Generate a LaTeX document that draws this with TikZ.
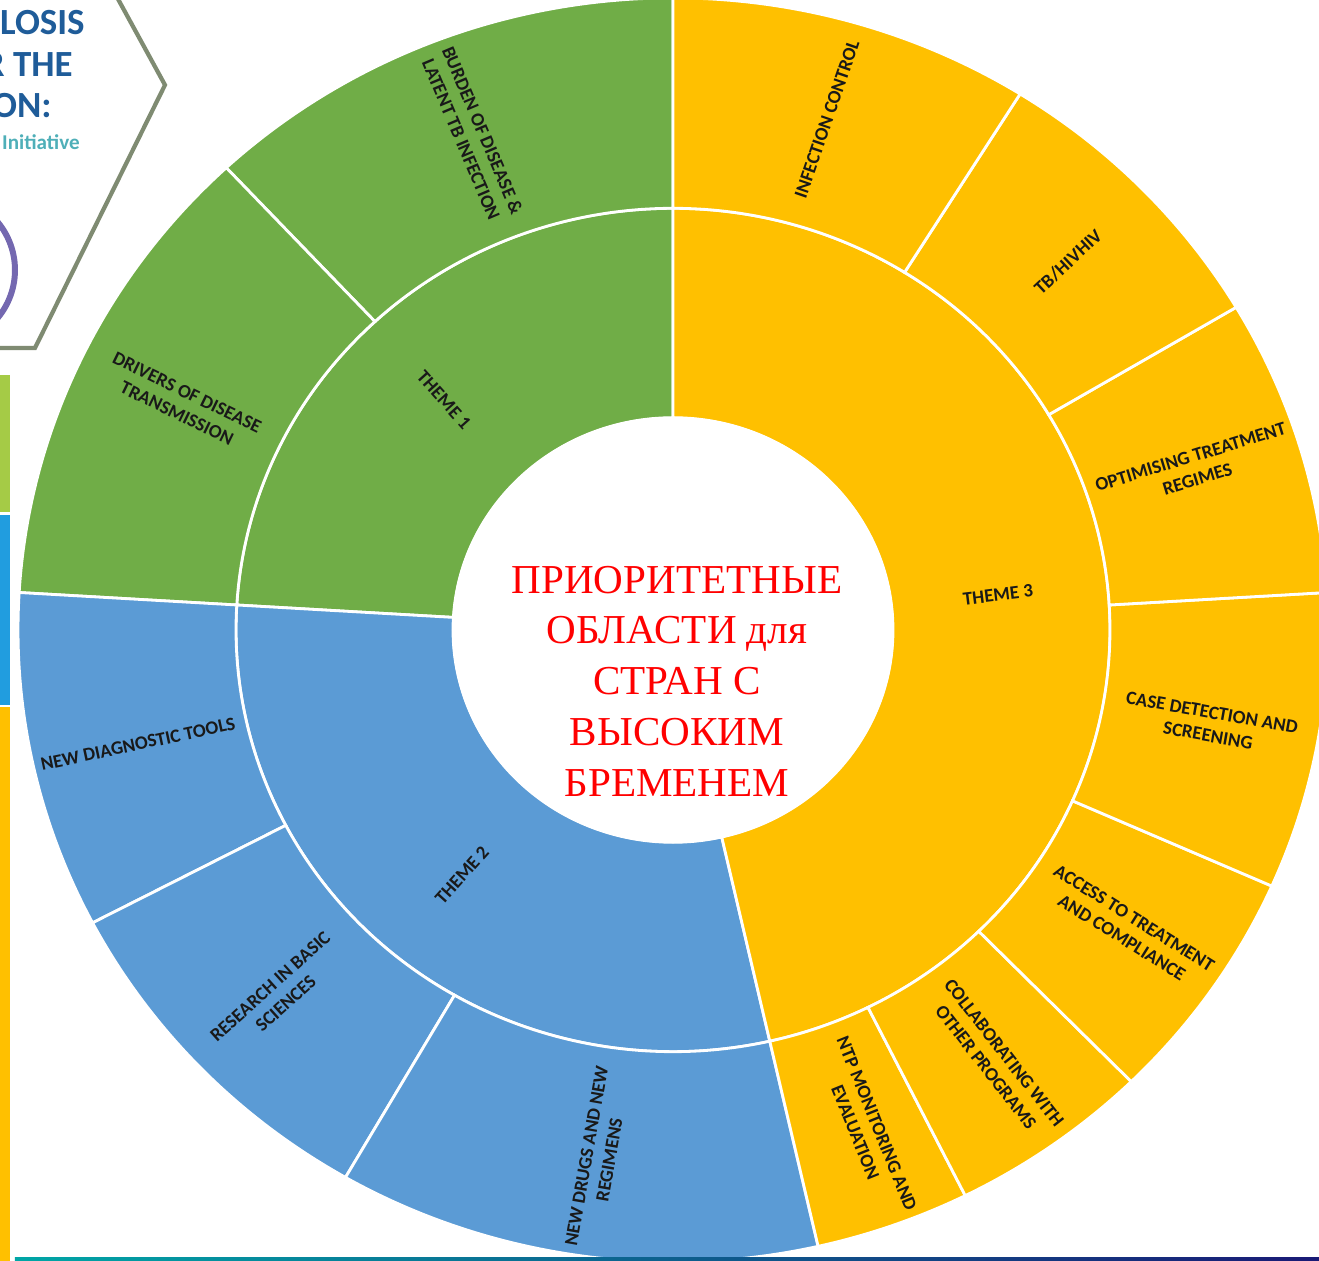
\documentclass[tikz,border=0pt]{standalone}
\usepackage{fontspec}
\setmainfont{Liberation Serif}
\newfontfamily\labelfont{Carlito}
\usetikzlibrary{positioning}

\definecolor{themegreen}{HTML}{70AD47}
\definecolor{themeblue}{HTML}{5B9BD5}
\definecolor{themeyellow}{HTML}{FFC000}
\definecolor{headblue}{HTML}{1F5C99}
\definecolor{headteal}{HTML}{4FAFB8}
\definecolor{hexgray}{HTML}{7F8B72}
\definecolor{ringpurple}{HTML}{7468B0}

% one piece of a ring: colour, start, end, inner radius, outer radius
\newcommand{\ringslice}[5]{%
  \filldraw[fill=#1, draw=white, line width=1.6pt]
    (#2:#5) arc[start angle=#2, end angle=#3, radius=#5]
    -- (#3:#4) arc[start angle=#3, end angle=#2, radius=#4] -- cycle;}

\begin{document}
\begin{tikzpicture}[x=0.02cm, y=0.02cm,
    lbl/.style={font=\labelfont\bfseries\fontsize{10.8}{13.2}\selectfont,
      align=center, inner sep=0pt, text=black!90},
    focus/.style={font=\fontsize{23.4}{28.9}\selectfont, align=center,
      inner sep=0pt, text=red},
    headtext/.style={font=\labelfont\bfseries\fontsize{21}{24}\selectfont,
      anchor=base east, inner sep=0pt, text=headblue}]

    \useasboundingbox (-673,-631) rectangle (646,630);
    \clip (-673,-631) rectangle (646,630);

    % rings
    \begin{scope}[yscale=0.965]
        \ringslice{themegreen}{90}{176.6}{220}{437}
        \ringslice{themeblue}{176.6}{282.8}{220}{437}
        \ringslice{themeyellow}{282.8}{450}{220}{437}

        \ringslice{themegreen}{90}{133}{437}{655}
        \ringslice{themegreen}{133}{176.6}{437}{655}
        \ringslice{themeblue}{176.6}{207.6}{437}{655}
        \ringslice{themeblue}{207.6}{240}{437}{655}
        \ringslice{themeblue}{240}{282.8}{437}{655}
        \ringslice{themeyellow}{282.8}{296.5}{437}{655}
        \ringslice{themeyellow}{296.5}{314.4}{437}{655}
        \ringslice{themeyellow}{314.4}{336.1}{437}{655}
        \ringslice{themeyellow}{336.1}{363.4}{437}{655}
        \ringslice{themeyellow}{3.4}{30.7}{437}{655}
        \ringslice{themeyellow}{30.7}{58}{437}{655}
        \ringslice{themeyellow}{58}{90}{437}{655}

        \fill[white] (0,0) circle[radius=221];
    \end{scope}

    % themes
    \node[lbl, rotate=-48] (theme1) at (-229,230) {THEME 1};
    \node[lbl, rotate=48] (theme2) at (-211,-245) {THEME 2};
    \node[lbl, rotate=7] (theme3) at (325,35) {THEME 3};

    % outer labels
    \node[lbl, rotate=-67] (burden) at (-201,495) {BURDEN OF DISEASE \&\\LATENT TB INFECTION};
    \node[lbl, rotate=-26] (drivers) at (-491,227) {DRIVERS OF DISEASE\\TRANSMISSION};
    \node[lbl, rotate=12] (newdiag) at (-535,-114) {NEW DIAGNOSTIC TOOLS};
    \node[lbl, rotate=42] (research) at (-395,-365) {RESEARCH IN BASIC\\SCIENCES};
    \node[lbl, rotate=80] (newdrugs) at (-75,-528) {NEW DRUGS AND NEW\\REGIMENS};
    \node[lbl, rotate=-68] (ntp) at (193,-498) {NTP MONITORING AND\\EVALUATION};
    \node[lbl, rotate=-52] (collab) at (322,-430) {COLLABORATING WITH\\OTHER PROGRAMS};
    \node[lbl, rotate=-32] (access) at (455,-298) {ACCESS TO TREATMENT\\AND COMPLIANCE};
    \node[lbl, rotate=-10] (casedet) at (537,-94) {CASE DETECTION AND\\SCREENING};
    \node[lbl, rotate=17] (optim) at (521,162) {OPTIMISING TREATMENT\\REGIMES};
    \node[lbl, rotate=43] (tbhiv) at (395,368) {TB/HIVHIV};
    \node[lbl, rotate=71] (infection) at (154,511) {INFECTION CONTROL};

    \node[focus] (priority) at (4,-51) {ПРИОРИТЕТНЫЕ\\ОБЛАСТИ для\\СТРАН С\\ВЫСОКИМ\\БРЕМЕНЕМ};

    % cut-off header at the top left
    \draw[hexgray, line width=2.4pt, line join=miter]
        (-561,642) -- (-508,545) -- (-638,282) -- (-690,282);
    \node[headtext] (head1) at (-588,595) {LOSIS};
    \node[headtext] (head2) at (-600,553) {R THE};
    \node[headtext] (head3) at (-621,512) {ON:};
    \node[headtext, font=\labelfont\bfseries\fontsize{12}{14}\selectfont, text=headteal]
        (head4) at (-593,480) {Initiative};
    \draw[ringpurple, line width=3.4pt] (-733,360) circle[radius=75];

    % colour bars at the left edge
    \fill[themegreen!70!yellow!90!white] (-673,255) rectangle (-663,118);
    \fill[cyan!80!blue!90!white] (-673,115) rectangle (-663,-75);
    \fill[themeyellow] (-673,-77) rectangle (-663,-631);

    \shade[left color=teal!70!cyan, right color=blue!40!black!90] (-658,-631) rectangle (646,-627);

\end{tikzpicture}
\end{document}
